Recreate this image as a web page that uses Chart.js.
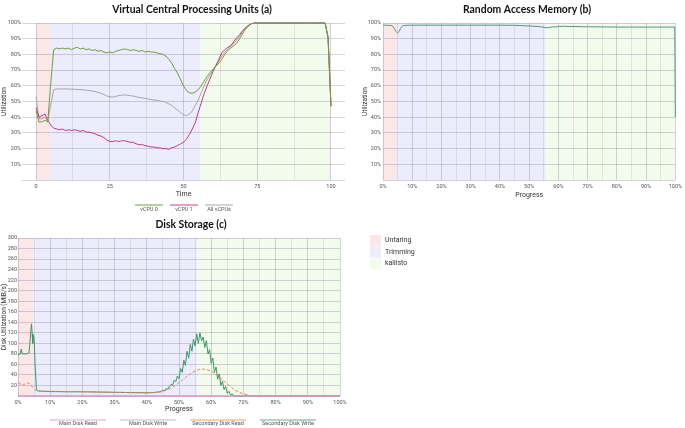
<!DOCTYPE html>
<html>
<head>
<meta charset="utf-8">
<script src="https://cdn.jsdelivr.net/npm/chart.js@4/dist/chart.umd.min.js"></script>
<style>
  body { margin: 0; width: 685px; height: 428px; background: #fff; position: relative; overflow: hidden; }
  canvas { position: absolute; }
  #cpuChart { left: 0; top: 0; }
  #ramChart { left: 345px; top: 0; }
  #diskChart { left: 0; top: 215px; }
  #phaseLegend { left: 365px; top: 230px; }
</style>
</head>
<body>
<canvas id="cpuChart" width="345" height="215"></canvas>
<canvas id="ramChart" width="340" height="215"></canvas>
<canvas id="diskChart" width="350" height="213"></canvas>
<canvas id="phaseLegend" width="80" height="45"></canvas>
<script>
// Phases shared by all three panels
const phaseNames = ['Untaring', 'Trimming', 'kallisto'];
const phaseStart = [0, 4.8, 55.7];
const phaseEnd = [4.8, 55.7, 100];
const phaseColors = ['#fbe6e8', '#ececfc', '#f3fbec'];

// (a) vCPU utilisation over time
const timeA = [0,1,2,3,4,5,6,7,8,9,10,11,12,13,14,15,16,17,18,19,20,21,22,23,24,25,26,27,28,29,30,
  31,32,33,34,35,36,37,38,39,40,41,42,43,44,45,46,47,48,49,50,51,52,53,54,55,56,57,58,59,60,
  61,62,63,64,65,66,67,68,69,70,71,72,73,74,75,76,77,78,79,80,81,82,83,84,85,86,87,88,89,90,
  91,92,93,94,95,96,97,98,99,100];
const vcpu0 = [44,37,37,38,37,62,83,84,83.5,84,
  83.5,84,83,84,84.5,83.5,84,83,83.5,82.5,
  83,82,82.5,81.5,81,81.5,81,82,82.5,83,
  83.5,83,82.5,83,82.5,82,82.5,81.5,82,81.5,
  81.5,81,80.5,80,79,77,74.5,71,68,64,
  60,57,55.5,55.3,56,57.5,60,63,66,68.5,
  70.5,72.5,74.5,77,80,82.5,84,85.5,87,90,
  93,96,98,99.5,100,100,100,100,100,100,
  100,100,100,100,100,100,100,100,100,100,
  100,100,100,100,100,100,100,100,100,91,47];
const vcpu1 = [46,40,41,42,38,35,33,32.5,32,32.5,
  31.5,32,31.5,32,31.5,31,31.5,30.5,30.5,30,
  29.5,28.5,28,27,25.5,24.5,24.5,25,24.5,25,
  25,24.5,24,24,23,22.5,22.5,22,21.5,21,
  21,20.5,20.5,20,20,19.5,20.5,21,22,23,
  24,26,29,32.5,36.5,43,49,55,60,64.5,
  69,73,77,81,83,84.5,85.5,88,90.5,92.5,
  95,97,98.5,99.5,100,100,100,100,100,100,
  100,100,100,100,100,100,100,100,100,100,
  100,100,100,100,100,100,100,100,100,91,47];
const vcpuAll = [53,39,39,40,37.5,48,57.5,58,58,58,
  58,58,57.8,57.8,57.7,57.5,57.5,57.2,57,56.7,
  56.3,55.8,55.3,54.5,53.5,53,52.8,53.3,53.7,54,
  54.2,54,53.7,53.5,53,52.5,52.3,52,51.7,51.3,
  51,50.7,50.3,50,49.5,48.5,47.5,46,44.5,43,
  41.5,41,42,44,47.5,51,55.5,60,64,67,
  70,73,76,79,81.5,83.5,85,87,89,91.5,
  94.5,96.5,98.2,99.5,100,100,100,100,100,100,
  100,100,100,100,100,100,100,100,100,100,
  100,100,100,100,100,100,100,100,100,91,47];
const cpuNames = ['vCPU 0', 'vCPU 1', 'All vCPUs'];
const cpuColors = ['#6f9e3c', '#c23a86', '#a5a5ad'];
const timeGridA = [0, 12.5, 25, 37.5, 50, 62.5, 75, 87.5, 100];
const timeLabelsA = [0, 25, 50, 75, 100];

// (b) RAM utilisation over progress
const progB = [0,1,2,3,3.5,4,4.5,5,5.5,6,6.5,7,8,10,15,20,25,30,35,40,45,48,50,52,54,55,56,57,58,59,60,62,64,66,68,70,75,80,85,90,95,99.8,100];
const ramUse = [98.6,98.6,98.5,98.3,97.5,96,94.5,93.6,94.5,96.5,97.8,98.3,98.5,98.6,98.6,98.6,98.6,98.6,98.6,98.6,98.5,98.3,98.1,97.9,97.6,97.3,97,97.2,97.6,97.4,97.8,97.9,97.7,97.8,97.6,97.6,97.5,97.4,97.4,97.4,97.4,97.4,40];

// (c) Disk throughput over progress
const progC = [0,0.3,0.6,1,1.3,1.6,2,2.5,3,3.4,3.7,4,4.2,4.4,4.6,4.8,5,5.3,5.7,6,7,8,10,15,20,25,30,35,40,42,44,
  44.5,45,45.5,46,46.5,47,47.5,48,48.5,49,49.5,50,50.5,51,51.5,52,52.5,53,53.5,54,54.5,55,55.5,56,56.5,57,57.5,58,58.5,59,
  59.5,60,60.5,61,61.5,62,62.5,63,63.5,64,64.5,65,65.5,66,66.5,67,
  68,70,72,75,80,90,100];
const secWrite = [78,80,79,89,80,80,80,80,81,82,100,125,137,118,100,115,108,60,15,10,9,9,8.5,8,8,7.5,7,6.5,6,6.5,8,
  9,11,10,14,13,18,22,20,30,27,38,33,52,45,68,58,85,72,98,85,108,95,118,100,120,105,112,92,105,80,
  88,62,72,45,55,32,42,20,28,12,18,5,9,2,4,0,
  0,0,0,0,0,0,0];
const secRead = [25,24,23,22,21,21,22,24,25,24,22,20,19,18,17,16,14,12,10,9.5,9,9,9,8.5,8,7.5,7,6.5,6,6.5,7.5,
  8,9,10,11,12.5,14,15.5,17,19,21,23,25,27.5,30,32.5,35,37.5,40,42,44,46,47.5,49,50,51,51,51,50.5,50,49,
  48,46.5,45,43,41,38.5,36,33.5,31,28,25.5,23,20.5,18,15.5,13,
  9,4,1,0,0,0,0];
const progFlat = [0, 100];
const mainRead = [0, 0];
const mainWrite = [0, 0];
const diskNames = ['Main Disk Read', 'Main Disk Write', 'Secondary Disk Read', 'Secondary Disk Write'];
const diskColors = ['#e38fbd', '#a9a9cc', '#e0884a', '#3f9667'];

function pts(xs, ys) {
  return xs.map((x, i) => ({ x: x, y: ys[i] }));
}

// Background bands for the phases, drawn under the grid
const phaseBands = {
  id: 'phaseBands',
  beforeDraw(chart) {
    const { ctx, scales } = chart;
    const x = scales.x, y = scales.y;
    const top = y.getPixelForValue(y.max);
    const bottom = y.getPixelForValue(y.min);
    ctx.save();
    for (let i = 0; i < phaseNames.length; i++) {
      const x0 = x.getPixelForValue(phaseStart[i]);
      const x1 = x.getPixelForValue(phaseEnd[i]);
      ctx.fillStyle = phaseColors[i];
      ctx.fillRect(x0, top, x1 - x0, bottom - top);
    }
    ctx.restore();
  }
};

// Panel title, placed where the reference puts it
const panelTitle = {
  id: 'panelTitle',
  afterDraw(chart, args, opts) {
    const ctx = chart.ctx;
    ctx.save();
    ctx.font = 'bold 10.4px Lato';
    ctx.fillStyle = '#111';
    ctx.textAlign = 'center';
    ctx.textBaseline = 'middle';
    ctx.fillText(opts.text, opts.x, opts.y);
    ctx.restore();
  }
};

// Legend with the line above the label
const lineLegend = {
  id: 'lineLegend',
  afterDraw(chart, args, opts) {
    const ctx = chart.ctx;
    const sets = chart.data.datasets;
    const total = sets.length * opts.itemWidth + (sets.length - 1) * opts.gap;
    let x = opts.center - total / 2;
    ctx.save();
    ctx.font = '5.5px Roboto';
    ctx.textAlign = 'center';
    ctx.textBaseline = 'middle';
    sets.forEach(ds => {
      ctx.strokeStyle = ds.borderColor;
      ctx.globalAlpha = 0.8;
      ctx.lineWidth = 1.2;
      ctx.beginPath();
      ctx.moveTo(x, opts.y);
      ctx.lineTo(x + opts.itemWidth, opts.y);
      ctx.stroke();
      ctx.globalAlpha = 1;
      ctx.fillStyle = '#555';
      ctx.fillText(ds.label, x + opts.itemWidth / 2, opts.y + opts.textOffset);
      x += opts.itemWidth + opts.gap;
    });
    ctx.restore();
  }
};

const tickFont = { family: 'Roboto', size: 5.5 };
const tickColor = '#555';
const gridMajor = 'rgba(120,120,150,0.32)';
const gridMinor = 'rgba(120,120,150,0.16)';

function pctAxis(width, pad, title) {
  return {
    type: 'linear', min: 0, max: 100,
    border: { display: false },
    grid: { drawTicks: false, color: c => (c.tick.value % 10 === 0 ? gridMajor : gridMinor) },
    ticks: {
      stepSize: 5, padding: pad, font: tickFont, color: tickColor,
      callback: v => (v % 10 === 0 && v > 0 ? v + '%' : '')
    },
    title: { display: true, text: title, color: '#333', font: { family: 'Roboto', size: 6.5 }, padding: 0 },
    afterFit: s => { s.width = width; }
  };
}

function progressAxis(height) {
  return {
    type: 'linear', min: 0, max: 100,
    border: { display: false },
    grid: { drawTicks: false, color: c => (c.tick.value % 10 === 0 ? gridMajor : gridMinor) },
    ticks: {
      stepSize: 5, padding: 3, font: tickFont, color: tickColor, maxRotation: 0, autoSkip: false,
      callback: v => (v % 10 === 0 ? v + '%' : '')
    },
    title: { display: true, text: 'Progress', color: '#333', font: { family: 'Roboto', size: 7 }, padding: { top: 0, bottom: 2 } },
    afterFit: s => { s.height = height; }
  };
}

Chart.defaults.animation = false;
Chart.defaults.responsive = false;
Chart.defaults.elements.point.radius = 0;
Chart.defaults.elements.line.borderWidth = 1;
Chart.defaults.elements.line.tension = 0;

// (a) CPU
new Chart(document.getElementById('cpuChart'), {
  type: 'line',
  data: {
    datasets: [
      { label: cpuNames[0], data: pts(timeA, vcpu0), borderColor: cpuColors[0] },
      { label: cpuNames[1], data: pts(timeA, vcpu1), borderColor: cpuColors[1] },
      { label: cpuNames[2], data: pts(timeA, vcpuAll), borderColor: cpuColors[2] }
    ]
  },
  options: {
    clip: 2,
    layout: { padding: { top: 23, left: 0, right: 0, bottom: 15 } },
    plugins: {
      legend: { display: false },
      tooltip: { enabled: false },
      panelTitle: { text: 'Virtual Central Processing Units (a)', x: 192, y: 10 },
      lineLegend: { center: 184, y: 205, itemWidth: 28, gap: 7, textOffset: 5 }
    },
    scales: {
      x: {
        type: 'linear', min: -4.75, max: 104.75,
        border: { display: false },
        afterBuildTicks: s => { s.ticks = timeGridA.map(v => ({ value: v })); },
        grid: { drawTicks: false, color: c => (timeLabelsA.includes(c.tick.value) ? gridMajor : gridMinor) },
        ticks: {
          padding: 3, font: tickFont, color: tickColor, autoSkip: false, maxRotation: 0,
          callback: v => (timeLabelsA.includes(v) ? String(v) : '')
        },
        title: { display: true, text: 'Time', color: '#333', font: { family: 'Roboto', size: 7 }, padding: { top: 0, bottom: 2 } },
        afterFit: s => { s.height = 20; }
      },
      y: pctAxis(22, 1, 'Utilization')
    }
  },
  plugins: [phaseBands, panelTitle, lineLegend]
});

// (b) RAM
new Chart(document.getElementById('ramChart'), {
  type: 'line',
  data: {
    datasets: [
      { label: 'RAM', data: pts(progB, ramUse), borderColor: '#4f9a7c' }
    ]
  },
  options: {
    clip: 2,
    layout: { padding: { top: 23, left: 16, right: 7, bottom: 14 } },
    plugins: {
      legend: { display: false },
      tooltip: { enabled: false },
      panelTitle: { text: 'Random Access Memory (b)', x: 182, y: 10 }
    },
    scales: {
      x: progressAxis(21),
      y: pctAxis(22, 2, 'Utilization')
    }
  },
  plugins: [phaseBands, panelTitle]
});

// (c) Disk
new Chart(document.getElementById('diskChart'), {
  type: 'line',
  data: {
    datasets: [
      { label: diskNames[0], data: pts(progFlat, mainRead), borderColor: diskColors[0] },
      { label: diskNames[1], data: pts(progFlat, mainWrite), borderColor: diskColors[1] },
      { label: diskNames[2], data: pts(progC, secRead), borderColor: diskColors[2], borderDash: [3, 2] },
      { label: diskNames[3], data: pts(progC, secWrite), borderColor: diskColors[3] }
    ]
  },
  options: {
    clip: 2,
    layout: { padding: { top: 23, left: 0, right: 10, bottom: 13 } },
    plugins: {
      legend: { display: false },
      tooltip: { enabled: false },
      panelTitle: { text: 'Disk Storage (c)', x: 191, y: 10 },
      lineLegend: { center: 183, y: 205, itemWidth: 56, gap: 14, textOffset: 4 }
    },
    scales: {
      x: progressAxis(19),
      y: {
        type: 'linear', min: 0, max: 300,
        border: { display: false },
        grid: { drawTicks: false, color: gridMajor },
        ticks: { stepSize: 20, padding: 1, font: tickFont, color: tickColor, callback: v => (v > 0 ? String(v) : '') },
        title: { display: true, text: 'Disk Utilization (MiB/s)', color: '#333', font: { family: 'Roboto', size: 6.5 }, padding: 0 },
        afterFit: s => { s.width = 18; }
      }
    }
  },
  plugins: [phaseBands, panelTitle, lineLegend]
});

// Phase legend (shared by the panels)
const lctx = document.getElementById('phaseLegend').getContext('2d');
lctx.font = '7px Roboto';
lctx.textBaseline = 'middle';
phaseNames.forEach((name, i) => {
  const y = 5 + i * 11.5;
  lctx.fillStyle = phaseColors[i];
  lctx.fillRect(5, y, 11, 11);
  lctx.fillStyle = '#333';
  lctx.fillText(name, 20, y + 5.5);
});
</script>
</body>
</html>
